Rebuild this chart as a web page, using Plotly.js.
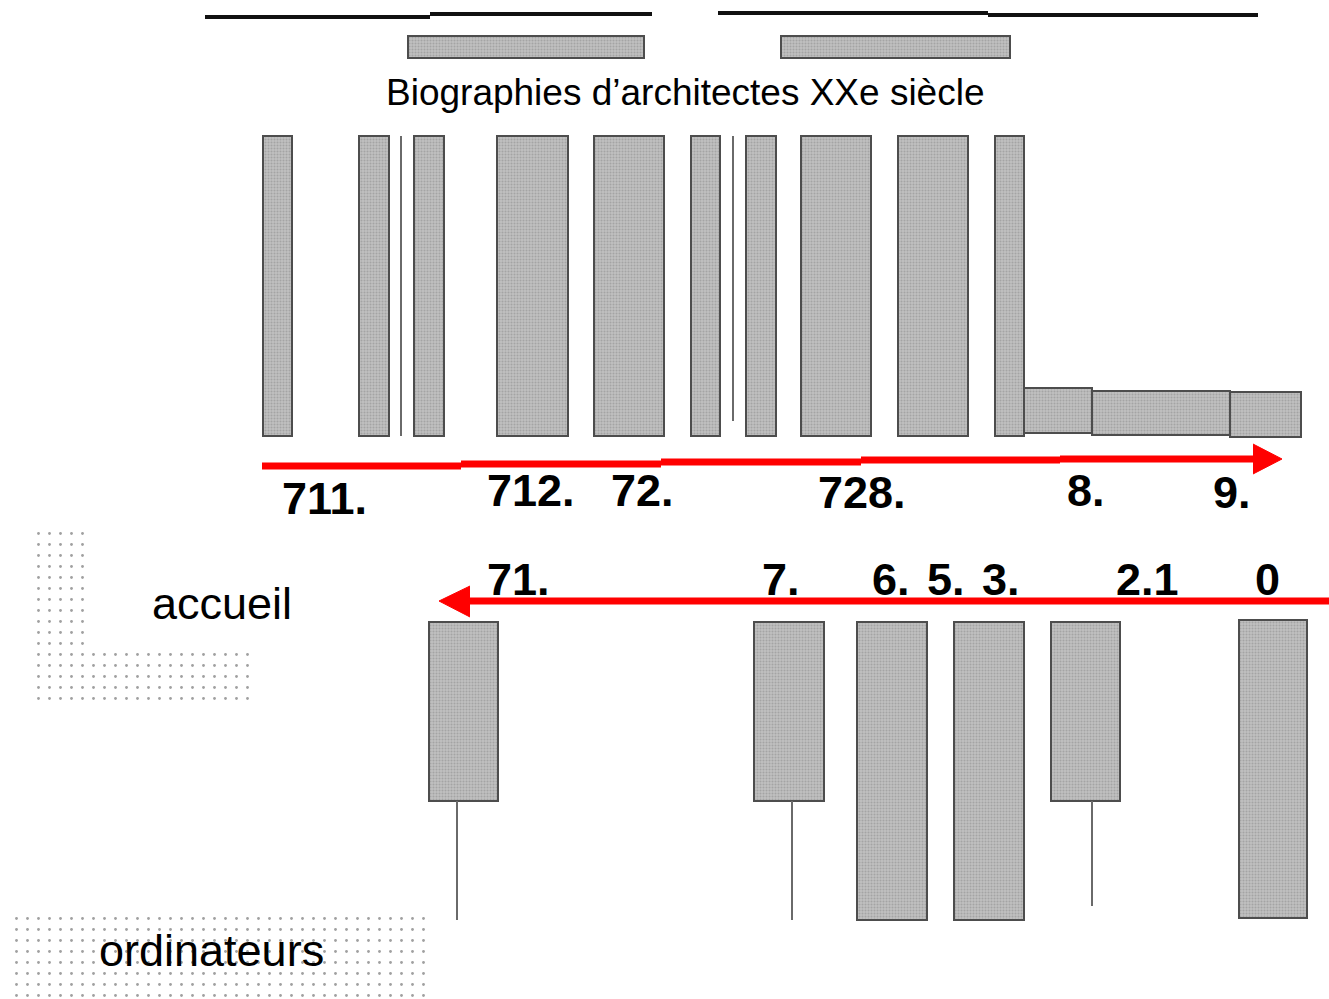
<!DOCTYPE html>
<html>
<head>
<meta charset="utf-8">
<script src="https://cdn.plot.ly/plotly-3.0.1.min.js"></script>
<style>html,body{margin:0;padding:0;background:#fff;}#chart{width:1329px;height:999px;}</style>
</head>
<body>
<div id="chart"></div>
<script>
// ---- data (plan of the library: shelf positions) ----
const topShelfLeft   = [263, 359, 414, 497, 594, 691, 746, 801, 898, 995];
const topShelfRight  = [292, 389, 444, 568, 664, 720, 776, 871, 968, 1024];
const topShelfTop    = [136, 136, 136, 136, 136, 136, 136, 136, 136, 136];
const topShelfBottom = [436, 436, 436, 436, 436, 436, 436, 436, 436, 436];

const floorShelfLeft   = [1024, 1092, 1230];
const floorShelfRight  = [1092, 1230, 1301];
const floorShelfTop    = [388, 391, 392];
const floorShelfBottom = [433, 435, 437];

const bioShelfLeft   = [408, 781];
const bioShelfRight  = [644, 1010];
const bioShelfTop    = [36, 36];
const bioShelfBottom = [58, 58];

const lowShelfLeft   = [429, 754, 857, 954, 1051, 1239];
const lowShelfRight  = [498, 824, 927, 1024, 1120, 1307];
const lowShelfTop    = [622, 622, 622, 622, 622, 620];
const lowShelfBottom = [801, 801, 920, 920, 801, 918];

const stemX      = [457, 792, 1092];
const stemTop    = [801, 801, 801];
const stemBottom = [920, 920, 906];

const dividerX      = [401, 733];
const dividerTop    = [136, 136];
const dividerBottom = [436, 421];

const wallLeft  = [205, 430, 718, 988];
const wallRight = [430, 652, 988, 1258];
const wallY     = [17, 14, 13, 15];

const topArrowLeft  = [262, 461, 661, 861, 1060];
const topArrowRight = [461, 661, 861, 1060, 1256];
const topArrowY     = [466, 464, 462, 460, 459];
const topHeadX = [1253, 1282, 1253];
const topHeadY = [444, 459, 474];

const lowArrowLeft  = [468];
const lowArrowRight = [1329];
const lowArrowY     = [601];
const lowHeadX = [470, 439, 470];
const lowHeadY = [586, 601, 617];

const zoneLeft   = [33, 33, 10];
const zoneRight  = [87, 253, 426];
const zoneTop    = [528, 647, 909];
const zoneBottom = [647, 703, 999];

const topLabels  = ['711.', '712.', '72.', '728.', '8.', '9.'];
const topLabelX  = [324, 531, 642, 862, 1086, 1232];
const topLabelY  = [498, 490, 490, 492, 490, 492];

const lowLabels  = ['71.', '7.', '6.', '5.', '3.', '2.1', '0'];
const lowLabelX  = [518, 781, 891, 946, 1001, 1147, 1267];
const lowLabelY  = [579, 579, 579, 579, 579, 579, 579];

const areaLabels = ['Biographies d\u2019architectes XXe siècle', 'accueil', 'ordinateurs'];
const areaLabelX = [685, 222, 211];
const areaLabelY = [92, 603, 950];

// ---- helpers ----
function rectBars(L, R, T, B, marker) {
  return {
    type: 'bar',
    x: L.map((l, i) => (l + R[i]) / 2),
    width: L.map((l, i) => R[i] - l),
    base: T,
    y: T.map((t, i) => B[i] - t),
    marker: marker,
    hoverinfo: 'skip'
  };
}
function segs(X0, X1, Y0, Y1) {
  const xs = [], ys = [];
  X0.forEach((x, i) => { xs.push(x, X1[i], null); ys.push(Y0[i], Y1[i], null); });
  return { xs, ys };
}

const shelfMarker = { color: '#b7b7b7', line: { color: '#4d4d4d', width: 2 },
  pattern: { shape: '.', fgcolor: '#a4a4a4', bgcolor: '#c0c0c0', size: 3, solidity: 0.35 } };
const zoneMarker = { color: '#ffffff', line: { width: 0 },
  pattern: { shape: '.', fgcolor: '#a0a0a0', bgcolor: '#ffffff', size: 11, solidity: 0.05 } };

const traces = [];
traces.push(rectBars(zoneLeft, zoneRight, zoneTop, zoneBottom, zoneMarker));
traces.push(rectBars(bioShelfLeft, bioShelfRight, bioShelfTop, bioShelfBottom, shelfMarker));
traces.push(rectBars(topShelfLeft, topShelfRight, topShelfTop, topShelfBottom, shelfMarker));
traces.push(rectBars(floorShelfLeft, floorShelfRight, floorShelfTop, floorShelfBottom, shelfMarker));
traces.push(rectBars(lowShelfLeft, lowShelfRight, lowShelfTop, lowShelfBottom, shelfMarker));

const walls = segs(wallLeft, wallRight, wallY, wallY);
traces.push({ type: 'scatter', mode: 'lines', x: walls.xs, y: walls.ys,
  line: { color: '#111', width: 4 }, hoverinfo: 'skip' });

const thin = segs(dividerX.concat(stemX), dividerX.concat(stemX),
                  dividerTop.concat(stemTop), dividerBottom.concat(stemBottom));
traces.push({ type: 'scatter', mode: 'lines', x: thin.xs, y: thin.ys,
  line: { color: '#6a6a6a', width: 2 }, hoverinfo: 'skip' });

const ta = segs(topArrowLeft, topArrowRight, topArrowY, topArrowY);
traces.push({ type: 'scatter', mode: 'lines', x: ta.xs, y: ta.ys,
  line: { color: '#ff0000', width: 7 }, hoverinfo: 'skip' });
const la = segs(lowArrowLeft, lowArrowRight, lowArrowY, lowArrowY);
traces.push({ type: 'scatter', mode: 'lines', x: la.xs, y: la.ys,
  line: { color: '#ff0000', width: 7 }, hoverinfo: 'skip' });
traces.push({ type: 'scatter', mode: 'lines', x: topHeadX, y: topHeadY, fill: 'toself',
  fillcolor: '#ff0000', line: { color: '#ff0000', width: 1 }, hoverinfo: 'skip' });
traces.push({ type: 'scatter', mode: 'lines', x: lowHeadX, y: lowHeadY, fill: 'toself',
  fillcolor: '#ff0000', line: { color: '#ff0000', width: 1 }, hoverinfo: 'skip' });

const font = 'Liberation Sans, Arial, sans-serif';
const annotations = [];
topLabels.forEach((t, i) => annotations.push({ text: '<b>' + t + '</b>', x: topLabelX[i], y: topLabelY[i],
  xref: 'x', yref: 'y', showarrow: false, font: { family: font, size: 45, color: '#000' } }));
lowLabels.forEach((t, i) => annotations.push({ text: '<b>' + t + '</b>', x: lowLabelX[i], y: lowLabelY[i],
  xref: 'x', yref: 'y', showarrow: false, font: { family: font, size: 45, color: '#000' } }));
areaLabels.forEach((t, i) => annotations.push({ text: t, x: areaLabelX[i], y: areaLabelY[i],
  xref: 'x', yref: 'y', showarrow: false,
  font: { family: font, size: i === 0 ? 37 : 45, color: '#000' } }));

const layout = {
  width: 1329, height: 999,
  margin: { l: 0, r: 0, t: 0, b: 0, pad: 0 },
  paper_bgcolor: '#ffffff', plot_bgcolor: '#ffffff',
  showlegend: false, barmode: 'overlay',
  xaxis: { range: [0, 1329], visible: false, fixedrange: true },
  yaxis: { range: [999, 0], visible: false, fixedrange: true },
  annotations: annotations
};
Plotly.newPlot('chart', traces, layout, { staticPlot: true, displayModeBar: false });
</script>
</body>
</html>
